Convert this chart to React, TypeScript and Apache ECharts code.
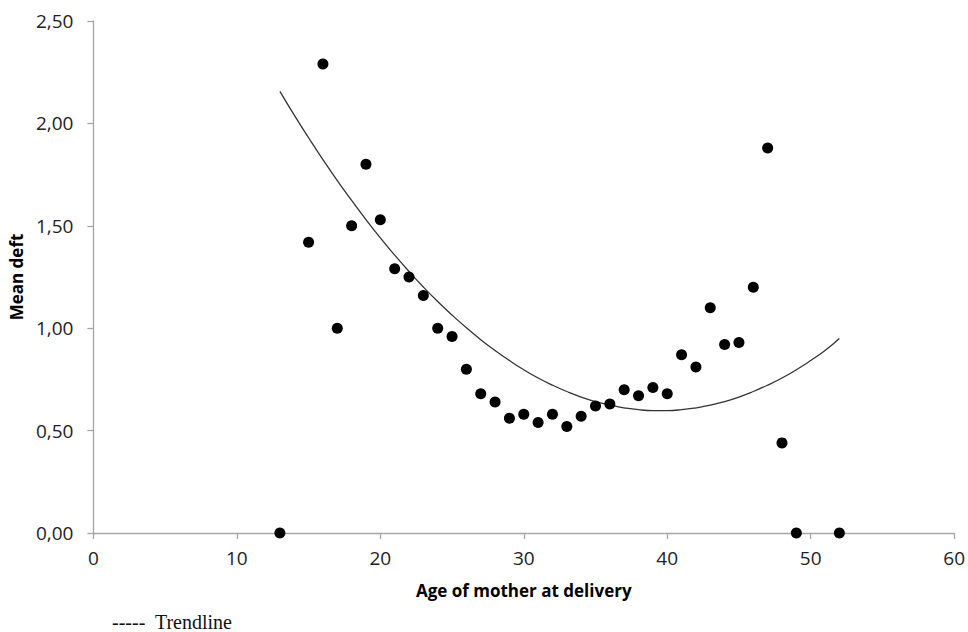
import React, { useEffect, useRef } from "react";
import * as echarts from "echarts";

// Scatter data: age of mother at delivery vs. mean deft
const ages = [13, 15, 16, 17, 18, 19, 20, 21, 22, 23, 24, 25, 26, 27, 28, 29, 30, 31, 32, 33, 34, 35, 36, 37, 38, 39, 40, 41, 42, 43, 44, 45, 46, 47, 48, 49, 52];
const meanDeft = [0, 1.42, 2.29, 1.0, 1.5, 1.8, 1.53, 1.29, 1.25, 1.16, 1.0, 0.96, 0.8, 0.68, 0.64, 0.56, 0.58, 0.54, 0.58, 0.52, 0.57, 0.62, 0.63, 0.7, 0.67, 0.71, 0.68, 0.87, 0.81, 1.1, 0.92, 0.93, 1.2, 1.88, 0.44, 0, 0];

// Trendline readings (one per year of age)
const trendX = [13, 14, 15, 16, 17, 18, 19, 20, 21, 22, 23, 24, 25, 26, 27, 28, 29, 30, 31, 32, 33, 34, 35, 36, 37, 38, 39, 40, 41, 42, 43, 44, 45, 46, 47, 48, 49, 50, 51, 52];
const trendY = [2.156, 2.04, 1.93, 1.823, 1.721, 1.624, 1.53, 1.441, 1.357, 1.277, 1.201, 1.13, 1.064, 1.002, 0.944, 0.891, 0.842, 0.797, 0.757, 0.722, 0.691, 0.664, 0.642, 0.624, 0.611, 0.602, 0.598, 0.598, 0.602, 0.611, 0.624, 0.642, 0.664, 0.691, 0.722, 0.757, 0.797, 0.842, 0.891, 0.95];

const xTicks = { min: 0, max: 60, interval: 10 };
const yTicks = { min: 0, max: 2.5, interval: 0.5 };

export default function App() {
  const ref = useRef<HTMLDivElement>(null);
  useEffect(() => {
    if (!ref.current) return;
    const chart = echarts.init(ref.current, null, { renderer: "svg" });
    const axisColor = "#a6a6a6";
    chart.setOption({
      animation: false,
      backgroundColor: "#ffffff",
      grid: { left: 93, right: 5, top: 21, bottom: 99, containLabel: false },
      xAxis: {
        type: "value",
        min: xTicks.min,
        max: xTicks.max,
        interval: xTicks.interval,
        name: "Age of mother at delivery",
        nameLocation: "middle",
        nameGap: 49,
        nameTextStyle: { fontFamily: "Open Sans", fontWeight: "bold", fontSize: 17, color: "#000" },
        axisLine: { lineStyle: { color: axisColor, width: 1.3 } },
        axisTick: { show: true, length: 6, lineStyle: { color: axisColor, width: 1.3 } },
        axisLabel: { margin: 15, fontFamily: "Open Sans", fontSize: 19, color: "#222" },
        splitLine: { show: false },
      },
      yAxis: {
        type: "value",
        min: yTicks.min,
        max: yTicks.max,
        interval: yTicks.interval,
        name: "Mean deft",
        nameLocation: "middle",
        nameGap: 66,
        nameRotate: 90,
        nameTextStyle: { fontFamily: "Open Sans", fontWeight: "bold", fontSize: 17, color: "#000" },
        axisLine: { show: true, lineStyle: { color: axisColor, width: 1.3 } },
        axisTick: { show: true, length: 6, lineStyle: { color: axisColor, width: 1.3 } },
        axisLabel: {
          margin: 20,
          fontFamily: "Open Sans",
          fontSize: 19,
          color: "#222",
          formatter: (v: number) => v.toFixed(2).replace(".", ","),
        },
        splitLine: { show: false },
      },
      series: [
        {
          type: "line",
          data: trendX.map((x, i) => [x, trendY[i]]),
          smooth: true,
          showSymbol: false,
          symbol: "none",
          lineStyle: { color: "#333", width: 1.3 },
          z: 1,
        },
        {
          type: "scatter",
          data: ages.map((x, i) => [x, meanDeft[i]]),
          symbolSize: 11,
          itemStyle: { color: "#000", opacity: 1 },
          z: 2,
        },
      ],
      graphic: [
        {
          type: "text",
          left: 112,
          top: 612,
          style: { text: "-----  Trendline", fontFamily: "Liberation Serif", fontSize: 20, fill: "#111" },
        },
      ],
    });
    return () => chart.dispose();
  }, []);
  return <div ref={ref} style={{ position: "fixed", left: 0, top: 0, width: 968, height: 632 }} />;
}
